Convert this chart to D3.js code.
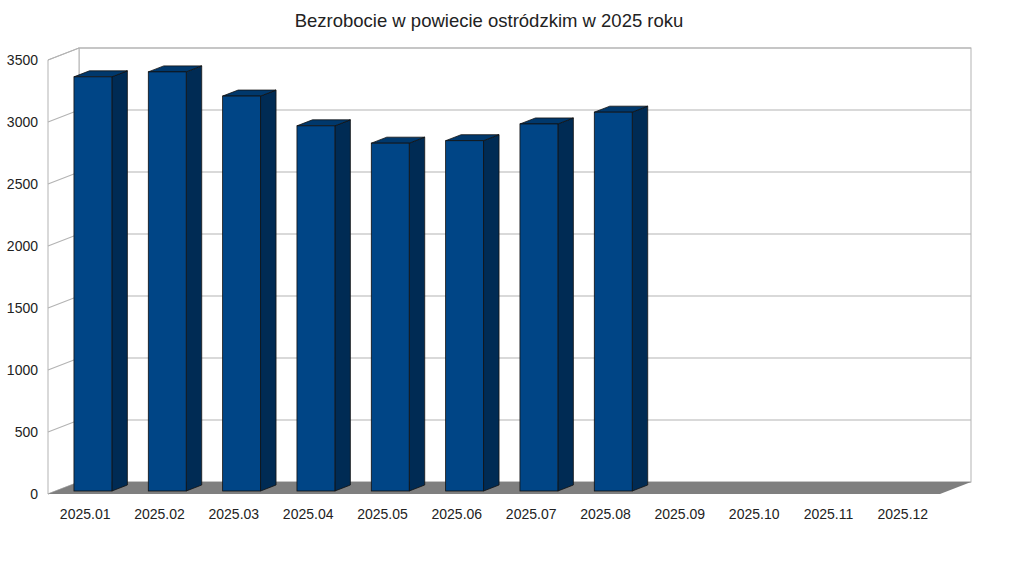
<!DOCTYPE html>
<html>
<head>
<meta charset="utf-8">
<script src="https://cdn.jsdelivr.net/npm/d3@7"></script>
<style>
  body { margin: 0; background: #fff; }
  text { font-family: "Liberation Sans", Arial, sans-serif; fill: #222; }
</style>
</head>
<body>
<div id="chart"></div>
<script>
// dane
const months = ["2025.01", "2025.02", "2025.03", "2025.04", "2025.05", "2025.06",
                "2025.07", "2025.08", "2025.09", "2025.10", "2025.11", "2025.12"];
const values = [3340, 3380, 3185, 2945, 2805, 2825, 2960, 3055, null, null, null, null];
const yTicks = [0, 500, 1000, 1500, 2000, 2500, 3000, 3500];

const width = 1024;
const height = 576;

// plan przedni + głębia (pseudo 3D)
const plotLeft = 48, plotRight = 940, plotBottom = 494, plotTop = 60;
const depthX = 31, depthY = -12;
const barD0 = 0.25, barD1 = 0.75;

const svg = d3.select("#chart")
    .append("svg")
    .attr("width", width)
    .attr("height", height);

const x = d3.scaleBand()
    .domain(months)
    .range([plotLeft, plotRight])
    .paddingInner(0.49)
    .paddingOuter(0.245);

const y = d3.scaleLinear()
    .domain([0, 3500])
    .range([plotBottom, plotTop]);

const line = d3.line();

// tylna ściana
svg.append("rect")
    .attr("x", plotLeft + depthX)
    .attr("y", plotTop + depthY)
    .attr("width", plotRight - plotLeft)
    .attr("height", plotBottom - plotTop)
    .attr("fill", "#fff")
    .attr("stroke", "#b3b3b3");

// lewa ściana
svg.append("path")
    .attr("d", line([[plotLeft, plotBottom], [plotLeft, plotTop], [plotLeft + depthX, plotTop + depthY], [plotLeft + depthX, plotBottom + depthY]]) + "Z")
    .attr("fill", "#fff")
    .attr("stroke", "#b3b3b3");

// linie siatki
yTicks.forEach(t => {
    svg.append("path")
        .attr("d", line([[plotLeft, y(t)], [plotLeft + depthX, y(t) + depthY], [plotRight + depthX, y(t) + depthY]]))
        .attr("fill", "none")
        .attr("stroke", "#b3b3b3")
        .attr("stroke-width", 1.2);
});

// podłoga
svg.append("path")
    .attr("d", line([[plotLeft, plotBottom], [plotRight, plotBottom], [plotRight + depthX, plotBottom + depthY], [plotLeft + depthX, plotBottom + depthY]]) + "Z")
    .attr("fill", "#7f7f7f");

// słupki
const bars = svg.selectAll(".bar")
    .data(months.map((m, i) => ({ month: m, value: values[i] })).filter(d => d.value != null))
    .join("g")
    .attr("class", "bar");

const fx = d => x(d.month) + barD0 * depthX;
const fy = v => y(v) + barD0 * depthY;
const bw = x.bandwidth();
const ddx = (barD1 - barD0) * depthX;
const ddy = (barD1 - barD0) * depthY;

// bok
bars.append("path")
    .attr("d", d => line([
        [fx(d) + bw, fy(0)], [fx(d) + bw, fy(d.value)],
        [fx(d) + bw + ddx, fy(d.value) + ddy], [fx(d) + bw + ddx, fy(0) + ddy]
    ]) + "Z")
    .attr("fill", "#002b54")
    .attr("stroke", "#111")
    .attr("stroke-width", 0.8);

// góra
bars.append("path")
    .attr("d", d => line([
        [fx(d), fy(d.value)], [fx(d) + bw, fy(d.value)],
        [fx(d) + bw + ddx, fy(d.value) + ddy], [fx(d) + ddx, fy(d.value) + ddy]
    ]) + "Z")
    .attr("fill", "#00386c")
    .attr("stroke", "#111")
    .attr("stroke-width", 0.8);

// przód
bars.append("rect")
    .attr("x", d => fx(d))
    .attr("y", d => fy(d.value))
    .attr("width", bw)
    .attr("height", d => fy(0) - fy(d.value))
    .attr("fill", "#004586")
    .attr("stroke", "#111")
    .attr("stroke-width", 0.8);

// etykiety osi Y
svg.selectAll(".ylab")
    .data(yTicks)
    .join("text")
    .attr("class", "ylab")
    .attr("x", 38)
    .attr("y", d => y(d))
    .attr("dy", "0.35em")
    .attr("text-anchor", "end")
    .style("font-size", "14px")
    .text(d => d);

// etykiety osi X
svg.selectAll(".xlab")
    .data(months)
    .join("text")
    .attr("class", "xlab")
    .attr("x", d => x(d) + bw / 2)
    .attr("y", 519)
    .attr("text-anchor", "middle")
    .style("font-size", "14px")
    .text(d => d);

// tytuł
svg.append("text")
    .attr("x", 489)
    .attr("y", 27)
    .attr("text-anchor", "middle")
    .style("font-size", "18.5px")
    .text("Bezrobocie w powiecie ostródzkim w 2025 roku");
</script>
</body>
</html>
